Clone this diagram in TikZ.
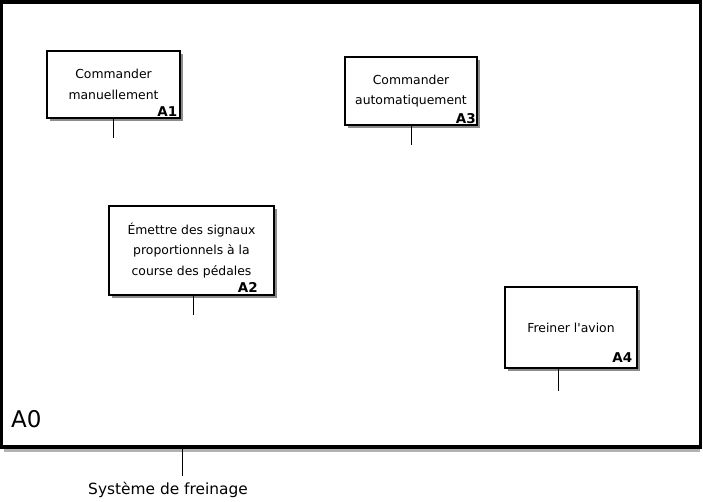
\documentclass[tikz,border=0pt]{standalone}
\usepackage{fontspec}
\setmainfont{DejaVu Sans}
\begin{document}
\begin{tikzpicture}[x=1pt,y=-1pt,
  fbox/.style={draw=black, line width=1.2pt, fill=white, inner sep=0pt, align=center,
    font=\fontsize{12.4}{20.5}\selectfont,
    preaction={fill=black!45, transform canvas={shift={(3pt,-3pt)}}}},
  lbl/.style={font=\bfseries\fontsize{13.5}{13.5}\selectfont, inner sep=0pt, anchor=base east},
  stem/.style={draw=black, line width=1pt}]
\useasboundingbox (0,0) rectangle (703,501);
% outer frame
\fill[black!30] (4,449) rectangle (700,451.5);
\node[draw=black, line width=3.5pt, minimum width=699, minimum height=445, inner sep=0pt] (a0) at (351,224.25) {};
\node[font=\fontsize{23}{23}\selectfont, inner sep=0pt, anchor=base west] (la0) at (11,427) {A0};
% boxes
\node[fbox, minimum width=133, minimum height=67] (a1) at (113.5,84.5) {Commander\\manuellement};
\node[lbl] (l1) at (177.5,116.5) {A1};
\node[fbox, minimum width=132, minimum height=68] (a3) at (411,91) {Commander\\automatiquement};
\node[lbl] (l3) at (476,123) {A3};
\node[fbox, minimum width=165, minimum height=89] (a2) at (191.5,250.5) {Émettre des signaux\\proportionnels à la\\course des pédales};
\node[lbl] (l2) at (258,292.5) {A2};
\node[fbox, minimum width=132, minimum height=81] (a4) at (571,327.5) {Freiner l\textquotesingle avion};
\node[lbl] (l4) at (632.5,362.5) {A4};
% stems
\coordinate (e1) at (113.5,138);
\coordinate (e3) at (411,145);
\coordinate (e2) at (193,315);
\coordinate (e4) at (558,391);
\coordinate (s0) at (182,449);
\coordinate (e0) at (182,476);
\draw[stem] (a1.south -| e1) -- (e1);
\draw[stem] (a3.south -| e3) -- (e3);
\draw[stem] (a2.south -| e2) -- (e2);
\draw[stem] (a4.south -| e4) -- (e4);
\draw[stem] (s0) -- (e0);
\node[font=\fontsize{15.4}{15.4}\selectfont, inner sep=0pt, anchor=base] (sys) at (168,494) {Système de freinage};
\end{tikzpicture}
\end{document}
